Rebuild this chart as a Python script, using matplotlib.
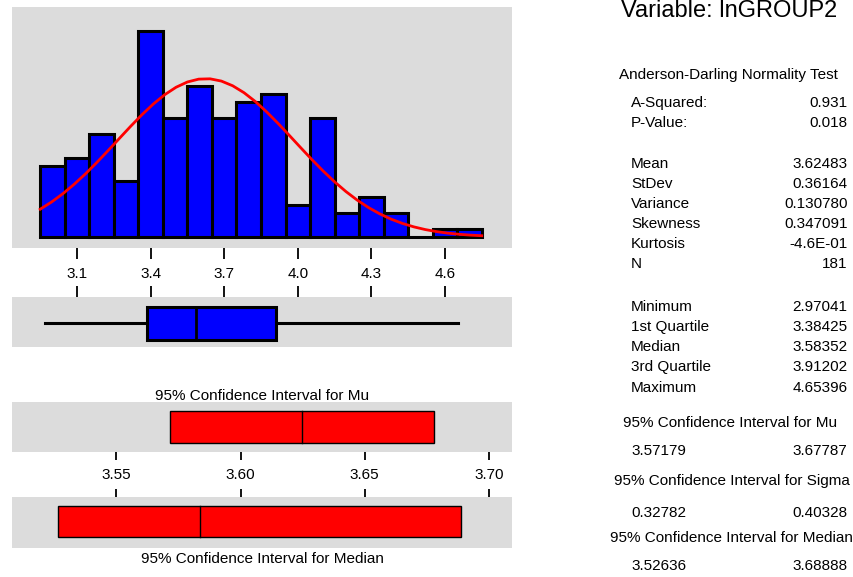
import numpy as np
import matplotlib.pyplot as plt

plt.rcParams['font.family'] = ['Liberation Sans', 'DejaVu Sans']
plt.rcParams['font.size'] = 11

# ---------------------------------------------------------
# data: lnGROUP2
# ---------------------------------------------------------
bin_centers = [3.0, 3.1, 3.2, 3.3, 3.4, 3.5, 3.6, 3.7, 3.8,
               3.9, 4.0, 4.1, 4.2, 4.3, 4.4, 4.5, 4.6, 4.7]
counts = [9, 10, 13, 7, 26, 15, 19, 15, 17,
          18, 4, 15, 3, 5, 3, 0, 1, 1]
bin_width = 0.1

n_obs = 181
mean = 3.62483
stdev = 0.36164

minimum, q1, median, q3, maximum = 2.97041, 3.38425, 3.58352, 3.91202, 4.65396

ci_mu = (3.57179, 3.67787)
ci_sigma = (0.32782, 0.40328)
ci_median = (3.52636, 3.68888)

hist_ticks = [3.1, 3.4, 3.7, 4.0, 4.3, 4.6]
ci_ticks = [3.55, 3.60, 3.65, 3.70]

ad_labels = ["A-Squared:", "P-Value:"]
ad_values = ["0.931", "0.018"]
desc_labels = ["Mean", "StDev", "Variance", "Skewness", "Kurtosis", "N"]
desc_values = ["3.62483", "0.36164", "0.130780", "0.347091", "-4.6E-01", "181"]
quant_labels = ["Minimum", "1st Quartile", "Median", "3rd Quartile", "Maximum"]
quant_values = ["2.97041", "3.38425", "3.58352", "3.91202", "4.65396"]

# ---------------------------------------------------------
# layout (pixel helpers)
# ---------------------------------------------------------
W, H = 854, 577
BLUE = '#0000FF'
RED = '#FF0000'
GRAY = '#DCDCDC'


def fx(x):
    return x / W


def fy(y):
    return 1 - y / H


def panel(x0, y0, x1, y1):
    ax = fig.add_axes([fx(x0), fy(y1), (x1 - x0) / W, (y1 - y0) / H])
    ax.set_facecolor(GRAY)
    for s in ax.spines.values():
        s.set_visible(False)
    ax.set_yticks([])
    return ax


fig = plt.figure(figsize=(W / 100, H / 100), dpi=100)

# ---------------------------------------------------------
# histogram + normal curve
# ---------------------------------------------------------
ax_h = panel(12, 7, 512, 248)
ax_h.bar(bin_centers, counts, width=bin_width, color=BLUE,
         edgecolor='black', linewidth=2.2, zorder=2)

xs = np.linspace(bin_centers[0] - bin_width / 2, bin_centers[-1] + bin_width / 2, 40)
curve = n_obs * bin_width * np.exp(-0.5 * ((xs - mean) / stdev) ** 2) / (stdev * np.sqrt(2 * np.pi))
ax_h.plot(xs, curve, color=RED, linewidth=2.0, zorder=3)

ax_h.set_xlim(2.835, 4.8733)
ax_h.set_ylim(-1.39, 29.0)
ax_h.set_xticks(hist_ticks)
ax_h.set_xticklabels([f"{t:.1f}" for t in hist_ticks])
ax_h.tick_params(axis='x', direction='out', length=8, width=1.3, pad=6,
                 labelsize=11)

# ---------------------------------------------------------
# boxplot
# ---------------------------------------------------------
ax_b = panel(12, 296.7, 512, 346.7)
ax_b.bxp([dict(med=median, q1=q1, q3=q3, whislo=minimum, whishi=maximum)],
         positions=[0.47], widths=0.66, orientation='horizontal',
         showcaps=False, showfliers=False, patch_artist=True,
         boxprops=dict(facecolor=BLUE, edgecolor='black', linewidth=2.2),
         whiskerprops=dict(color='black', linewidth=2.2),
         medianprops=dict(color='black', linewidth=2.0))
ax_b.set_xlim(2.835, 4.8733)
ax_b.set_ylim(0, 1)
ax_b.set_yticks([])
ax_b.set_xticks(hist_ticks)
ax_b.xaxis.tick_top()
ax_b.tick_params(axis='x', direction='out', length=8, width=1.3,
                 labeltop=False, labelbottom=False)

# ---------------------------------------------------------
# confidence intervals
# ---------------------------------------------------------
ci_xlim = (3.50802, 3.70926)

ax_mu = panel(12, 402, 512, 451.7)
ax_mu.barh(0.5, ci_mu[1] - ci_mu[0], left=ci_mu[0], height=0.64,
           color=RED, edgecolor='black', linewidth=1.0)
ax_mu.plot([mean, mean], [0.18, 0.82], color='black', linewidth=1.0)
ax_mu.set_xlim(*ci_xlim)
ax_mu.set_ylim(0, 1)
ax_mu.set_xticks(ci_ticks)
ax_mu.set_xticklabels([f"{t:.2f}" for t in ci_ticks])
ax_mu.tick_params(axis='x', direction='out', length=6, width=1.3, pad=6,
                  labelsize=11)

ax_md = panel(12, 497.3, 512, 548.3)
ax_md.barh(0.52, ci_median[1] - ci_median[0], left=ci_median[0], height=0.61,
           color=RED, edgecolor='black', linewidth=1.0)
ax_md.plot([median, median], [0.215, 0.825], color='black', linewidth=1.0)
ax_md.set_xlim(*ci_xlim)
ax_md.set_ylim(0, 1)
ax_md.set_xticks(ci_ticks)
ax_md.xaxis.tick_top()
ax_md.tick_params(axis='x', direction='out', length=6, width=1.3,
                  labeltop=False, labelbottom=False)

fig.text(fx(262), fy(400), "95% Confidence Interval for Mu",
         ha='center', va='baseline', fontsize=11)
fig.text(fx(262), fy(563), "95% Confidence Interval for Median",
         ha='center', va='baseline', fontsize=11)

# ---------------------------------------------------------
# summary text
# ---------------------------------------------------------
LX, RX, CX = 631, 847.7, 730

fig.text(fx(729), fy(17), "Variable: lnGROUP2", ha='center', va='baseline',
         fontsize=17)
fig.text(fx(728), fy(79.5), "Anderson-Darling Normality Test",
         ha='center', va='baseline')


def rows(labels, values, y0, step=20):
    for i, (lab, val) in enumerate(zip(labels, values)):
        y = y0 + i * step
        fig.text(fx(LX), fy(y), lab, ha='left', va='baseline')
        fig.text(fx(RX), fy(y), val, ha='right', va='baseline')


rows(ad_labels, ad_values, 107.3)
rows(desc_labels, desc_values, 168.3)
rows(quant_labels, quant_values, 310.7, step=20.2)

fig.text(fx(CX), fy(427.3), "95% Confidence Interval for Mu", ha='center', va='baseline')
fig.text(fx(LX), fy(455), f"{ci_mu[0]:.5f}", ha='left', va='baseline')
fig.text(fx(RX), fy(455), f"{ci_mu[1]:.5f}", ha='right', va='baseline')

fig.text(fx(731.7), fy(485.5), "95% Confidence Interval for Sigma", ha='center', va='baseline')
fig.text(fx(LX), fy(516.7), f"{ci_sigma[0]:.5f}", ha='left', va='baseline')
fig.text(fx(RX), fy(516.7), f"{ci_sigma[1]:.5f}", ha='right', va='baseline')

fig.text(fx(731.7), fy(541.7), "95% Confidence Interval for Median", ha='center', va='baseline')
fig.text(fx(LX), fy(570), f"{ci_median[0]:.5f}", ha='left', va='baseline')
fig.text(fx(RX), fy(570), f"{ci_median[1]:.5f}", ha='right', va='baseline')

fig.savefig("out.png", dpi=100)
